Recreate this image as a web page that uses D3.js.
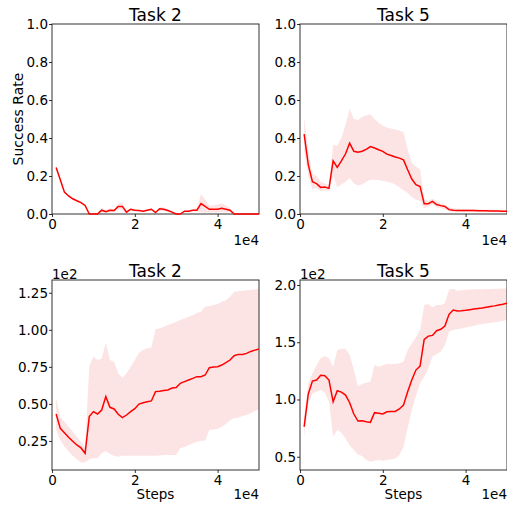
<!DOCTYPE html>
<meta charset="utf-8">
<style>
  body { margin: 0; background: white; }
  text { font-family: "DejaVu Sans", sans-serif; fill: #000; }
</style>
<script src="https://d3js.org/d3.v7.min.js"></script>
<div id="chart"></div>
<script>
// steps 1e3 .. 5e4
const steps = d3.range(1, 51).map(i => i * 1000);

// Task 2 success rate
const t2SuccMean = [0.245,0.18,0.115,0.095,0.08,0.07,0.06,0.045,0,0, 0,0.02,0.012,0.02,0.018,0.04,0.04,0.01,0.025,0.02, 0.018,0.015,0.02,0.025,0.008,0.028,0.025,0.018,0.01,0, 0,0.015,0.015,0.02,0.02,0.055,0.04,0.025,0.025,0.025, 0.03,0.025,0.02,0,0,0,0,0,0,0];
const t2SuccHi = [0.25,0.185,0.12,0.1,0.085,0.075,0.065,0.05,0.005,0, 0.005,0.03,0.02,0.03,0.025,0.055,0.06,0.02,0.03,0.025, 0.022,0.02,0.025,0.03,0.012,0.035,0.035,0.025,0.015,0.002, 0.003,0.02,0.02,0.025,0.03,0.105,0.075,0.045,0.045,0.05, 0.055,0.045,0.03,0.003,0,0,0,0,0,0];
const t2SuccLo = [0.24,0.175,0.11,0.09,0.075,0.065,0.055,0.04,0,0, 0,0.01,0.005,0.01,0.01,0.025,0.02,0.002,0.018,0.015, 0.012,0.01,0.015,0.018,0.004,0.02,0.015,0.01,0.005,0, 0,0.01,0.01,0.015,0.012,0.01,0.008,0.008,0.008,0.008, 0.01,0.008,0.01,0,0,0,0,0,0,0];

// Task 5 success rate
const t5SuccMean = [0.42,0.26,0.17,0.16,0.14,0.142,0.135,0.28,0.245,0.28, 0.317,0.373,0.33,0.325,0.33,0.34,0.355,0.347,0.338,0.33, 0.315,0.308,0.30,0.294,0.285,0.233,0.184,0.154,0.145,0.054, 0.054,0.066,0.05,0.044,0.04,0.023,0.02,0.019,0.019,0.018, 0.018,0.018,0.017,0.017,0.017,0.016,0.016,0.016,0.015,0.015];
const t5SuccHi = [0.51,0.33,0.21,0.2,0.17,0.16,0.15,0.364,0.36,0.4, 0.47,0.555,0.5,0.495,0.51,0.52,0.525,0.5,0.48,0.465, 0.455,0.45,0.445,0.44,0.43,0.34,0.27,0.25,0.235,0.08, 0.07,0.08,0.07,0.055,0.05,0.035,0.03,0.027,0.026,0.025, 0.025,0.025,0.024,0.024,0.023,0.023,0.022,0.022,0.021,0.021];
const t5SuccLo = [0.33,0.2,0.13,0.14,0.12,0.125,0.12,0.2,0.14,0.155, 0.17,0.19,0.16,0.15,0.155,0.17,0.18,0.18,0.178,0.175, 0.17,0.165,0.155,0.14,0.125,0.11,0.09,0.075,0.07,0.03, 0.04,0.05,0.035,0.03,0.025,0.015,0.012,0.011,0.011,0.01, 0.01,0.01,0.01,0.01,0.01,0.01,0.01,0.009,0.009,0.009];

// Task 2 reward (x1e2)
const t2RewMean = [0.432,0.335,0.306,0.275,0.248,0.223,0.203,0.167,0.414,0.448, 0.432,0.459,0.549,0.477,0.466,0.43,0.407,0.425,0.448,0.468, 0.499,0.508,0.515,0.52,0.583,0.585,0.59,0.594,0.607,0.61, 0.639,0.65,0.661,0.672,0.684,0.684,0.695,0.744,0.749,0.751, 0.762,0.778,0.796,0.825,0.834,0.834,0.841,0.854,0.863,0.87];
const t2RewHi = [0.542,0.414,0.38,0.347,0.313,0.279,0.245,0.21,0.755,0.82, 0.796,0.807,0.913,0.796,0.785,0.706,0.677,0.706,0.751,0.796, 0.845,0.863,0.875,0.881,1.003,1.01,1.021,1.032,1.043,1.054, 1.066,1.077,1.088,1.099,1.115,1.122,1.156,1.16,1.167,1.174, 1.19,1.2,1.223,1.257,1.26,1.263,1.266,1.269,1.272,1.275];
const t2RewLo = [0.324,0.257,0.212,0.178,0.15,0.126,0.104,0.104,0.126,0.133, 0.133,0.167,0.18,0.162,0.149,0.144,0.15,0.15,0.15,0.15, 0.15,0.15,0.15,0.15,0.15,0.152,0.155,0.155,0.155,0.155, 0.2,0.21,0.223,0.234,0.245,0.252,0.252,0.324,0.328,0.33, 0.346,0.365,0.39,0.403,0.407,0.418,0.425,0.437,0.452,0.463];

// Task 5 reward (x1e2)
const t5RewMean = [0.762,1.048,1.161,1.17,1.211,1.208,1.17,0.981,1.077,1.065, 1.039,0.972,0.873,0.812,0.815,0.806,0.80,0.885,0.879,0.873, 0.893,0.896,0.896,0.917,0.951,1.068,1.17,1.257,1.292,1.525, 1.554,1.56,1.601,1.613,1.642,1.744,1.782,1.773,1.775,1.779, 1.785,1.79,1.795,1.80,1.806,1.812,1.818,1.825,1.832,1.84];
const t5RewHi = [0.85,1.14,1.228,1.30,1.36,1.38,1.36,1.287,1.432,1.444, 1.444,1.388,1.257,1.117,1.135,1.147,1.155,1.30,1.286,1.30, 1.31,1.31,1.31,1.316,1.33,1.432,1.49,1.543,1.607,1.825, 1.834,1.805,1.825,1.825,1.84,1.962,1.968,1.95,1.955,1.958, 1.96,1.962,1.963,1.964,1.965,1.966,1.967,1.968,1.969,1.97];
const t5RewLo = [0.675,0.96,1.053,1.068,1.083,1.06,0.98,0.675,0.733,0.71, 0.66,0.6,0.558,0.52,0.506,0.471,0.456,0.465,0.471,0.465, 0.471,0.477,0.485,0.514,0.587,0.748,0.908,1.03,1.141,1.199, 1.272,1.374,1.397,1.417,1.476,1.592,1.607,1.613,1.62,1.63, 1.637,1.645,1.652,1.66,1.665,1.67,1.675,1.68,1.687,1.694];

const xTicks = [0, 20000, 40000];

const panels = [
  {title: "Task 2", left: 52, top: 24, mean: t2SuccMean, hi: t2SuccHi, lo: t2SuccLo,
   yDomain: [0, 1], yTicks: [0, 0.2, 0.4, 0.6, 0.8, 1.0], fmt: ".1f", ylabel: "Success Rate"},
  {title: "Task 5", left: 300, top: 24, mean: t5SuccMean, hi: t5SuccHi, lo: t5SuccLo,
   yDomain: [0, 1], yTicks: [0, 0.2, 0.4, 0.6, 0.8, 1.0], fmt: ".1f"},
  {title: "Task 2", left: 52, top: 280, mean: t2RewMean, hi: t2RewHi, lo: t2RewLo,
   yDomain: [0.054, 1.336], yTicks: [0.25, 0.5, 0.75, 1.0, 1.25], fmt: ".2f", exp: "1e2", xlabel: "Steps"},
  {title: "Task 5", left: 300, top: 280, mean: t5RewMean, hi: t5RewHi, lo: t5RewLo,
   yDomain: [0.384, 2.044], yTicks: [0.5, 1.0, 1.5, 2.0], fmt: ".1f", exp: "1e2", xlabel: "Steps"}
];

const W = 207, H = 190;

const svg = d3.select("#chart").append("svg")
  .attr("width", 507)
  .attr("height", 508);

panels.forEach(function(p, i) {
  const g = svg.append("g").attr("transform", `translate(${p.left},${p.top})`);

  const x = d3.scaleLinear().domain([0, 50000]).range([0, W]);
  const y = d3.scaleLinear().domain(p.yDomain).range([H, 0]);

  g.append("clipPath").attr("id", "clip" + i)
    .append("rect").attr("y", -1).attr("width", W).attr("height", H + 2);

  const data = steps.map((s, k) => ({s: s, m: p.mean[k], hi: p.hi[k], lo: p.lo[k]}));

  g.append("path")
    .datum(data)
    .attr("clip-path", `url(#clip${i})`)
    .attr("fill", "rgb(253,228,228)")
    .attr("d", d3.area().x(d => x(d.s)).y0(d => y(d.lo)).y1(d => y(d.hi)));

  // frame
  g.append("rect")
    .attr("width", W).attr("height", H)
    .attr("fill", "none")
    .attr("stroke", "#333")
    .attr("stroke-width", 1);

  g.append("path")
    .datum(data)
    .attr("clip-path", `url(#clip${i})`)
    .attr("fill", "none")
    .attr("stroke", "red")
    .attr("stroke-width", 1.5)
    .attr("d", d3.line().x(d => x(d.s)).y(d => y(d.m)));

  // axes
  const xAxis = g.append("g")
    .attr("transform", `translate(0,${H})`)
    .call(d3.axisBottom(x).tickValues(xTicks).tickFormat(d => d / 10000).tickSize(3).tickSizeOuter(0).tickPadding(2));
  const yAxis = g.append("g")
    .call(d3.axisLeft(y).tickValues(p.yTicks).tickFormat(d3.format(p.fmt)).tickSize(3).tickSizeOuter(0).tickPadding(1));
  [xAxis, yAxis].forEach(a => {
    a.select(".domain").remove();
    a.selectAll("text").style("font-size", "13.5px").style("font-family", "DejaVu Sans");
    a.selectAll("line").attr("stroke", "#000").attr("stroke-width", 0.8);
  });

  g.append("text")
    .attr("x", W / 2).attr("y", p.top === 24 ? -3.5 : -3)
    .attr("text-anchor", "middle")
    .style("font-size", "17px")
    .text(p.title);

  // offset text for x axis
  g.append("text")
    .attr("x", W).attr("y", H + (p.xlabel ? 29 : 31))
    .attr("text-anchor", "end")
    .style("font-size", "13.5px")
    .text("1e4");

  if (p.exp) {
    g.append("text")
      .attr("x", 0).attr("y", -1.5)
      .style("font-size", "13.5px")
      .text(p.exp);
  }
  if (p.xlabel) {
    g.append("text")
      .attr("x", W / 2).attr("y", H + 29)
      .attr("text-anchor", "middle")
      .style("font-size", "13.5px")
      .text(p.xlabel);
  }
  if (p.ylabel) {
    g.append("text")
      .attr("transform", `translate(${-29},${H / 2}) rotate(-90)`)
      .attr("text-anchor", "middle")
      .style("font-size", "14px")
      .text(p.ylabel);
  }
});
</script>
